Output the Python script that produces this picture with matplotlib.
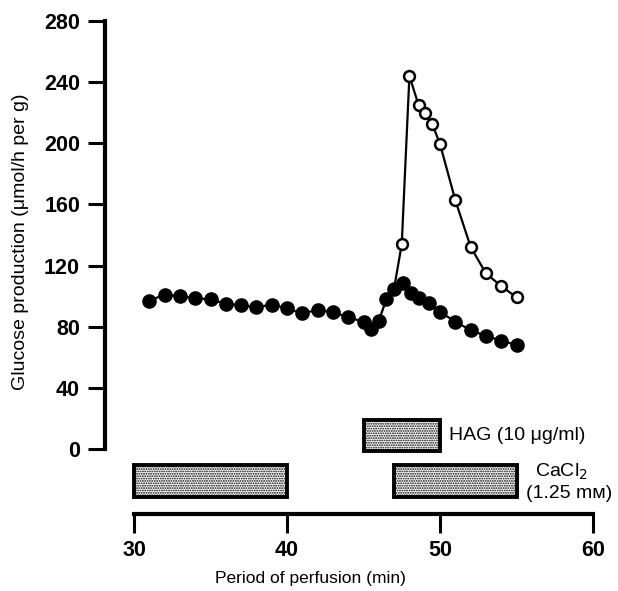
import matplotlib
matplotlib.use("Agg")
import matplotlib.pyplot as plt

plt.rcParams['font.family'] = ['Liberation Sans', 'DejaVu Sans']
plt.rcParams['hatch.linewidth'] = 0.9

# Data
filled_x = [31, 32, 33, 34, 35, 36, 37, 38, 39, 40, 41, 42, 43, 44, 45,
            45.5, 46, 46.5, 47, 47.6, 48.1, 48.6, 49.3, 50, 51, 52, 53, 54, 55]
filled_y = [97, 101, 100, 98.5, 98, 95, 94, 92.7, 94.5, 92, 88.7, 91, 89.5, 86.2, 83.2,
            78.3, 84, 98, 105, 108.8, 102.2, 98.5, 95.2, 89.8, 83.2, 77.8, 73.9, 70.9, 68]
open_x = [47, 47.5, 48, 48.6, 49.05, 49.5, 50, 51, 52, 53, 54, 55]
open_y = [105, 134, 244, 225, 219.6, 212.4, 199.5, 162.8, 132.3, 114.9, 106.6, 99.2]

y_ticks = [0, 40, 80, 120, 160, 200, 240, 280]
x_ticks = [30, 40, 50, 60]

# treatment periods (start, end)
hag_periods = [(45, 50)]
cacl_periods = [(30, 40), (47, 55)]

W, H = 618, 591
fig = plt.figure(figsize=(W / 100, H / 100), dpi=100)

def axes_px(x0, y0, x1, y1):
    return fig.add_axes([x0 / W, 1 - y1 / H, (x1 - x0) / W, (y1 - y0) / H])

xmin = 30 - (134 - 105) / 15.3
xmax = 60

ax = axes_px(105, 21, 593, 449)
ax.set_xlim(xmin, xmax)
ax.set_ylim(0, 280)
for s in ['top', 'right', 'bottom']:
    ax.spines[s].set_visible(False)
ax.spines['left'].set_linewidth(3.0)
ax.set_xticks([])
ax.set_yticks(y_ticks)
ax.tick_params(axis='y', length=12, width=2.2, pad=6, labelsize=15.5)
for lab in ax.get_yticklabels():
    lab.set_fontweight('bold')
ax.patch.set_alpha(0)

ax.plot(filled_x, filled_y, '-', color='black', lw=1.6, marker='o', ms=9.5,
        mfc='black', mec='black', clip_on=False, zorder=3)
ax.plot(open_x, open_y, '-', color='black', lw=1.6, clip_on=False, zorder=2)
ax.plot(open_x[1:], open_y[1:], 'o', ms=7.8, mfc='white', mec='black', mew=1.8,
        clip_on=False, zorder=4)

# treatment bars
bx = axes_px(105, 410, 593, 505)
bx.set_xlim(xmin, xmax)
bx.set_ylim(0, 95)
bx.axis('off')
for (a, b) in hag_periods:
    bx.barh(95 - (419 + 451) / 2 + 410, b - a, left=a, height=31, color='white',
            edgecolor='black', linewidth=2.8, hatch='.......')
for (a, b) in cacl_periods:
    bx.barh(95 - (464 + 497) / 2 + 410, b - a, left=a, height=32, color='white',
            edgecolor='black', linewidth=2.8, hatch='.......')

fig.text(449 / W, 1 - 436 / H, 'HAG (10 \u03bcg/ml)', fontsize=14, ha='left', va='center')
fig.text(561 / W, 1 - 472 / H, 'CaCl$_2$', fontsize=14, ha='center', va='center')
fig.text(569 / W, 1 - 493 / H, '(1.25 m\u1d0d)', fontsize=14, ha='center', va='center')

# x axis
xa = axes_px(105, 500, 593, 514)
xa.set_xlim(xmin, xmax)
for s in ['top', 'right', 'left']:
    xa.spines[s].set_visible(False)
xa.spines['bottom'].set_linewidth(3.0)
xa.spines['bottom'].set_bounds(30, 60)
xa.set_yticks([])
xa.set_xticks(x_ticks)
xa.tick_params(axis='x', length=14, width=2.2, pad=5, labelsize=15.5)
for lab in xa.get_xticklabels():
    lab.set_fontweight('bold')
xa.patch.set_alpha(0)

fig.text(310 / W, 1 - 578 / H, 'Period of perfusion (min)', fontsize=12.5, ha='center', va='center')
fig.text(21 / W, 1 - 242 / H, 'Glucose production (\u03bcmol/h per g)', fontsize=14,
         rotation=90, ha='center', va='center')

fig.savefig('out.png', dpi=100)
